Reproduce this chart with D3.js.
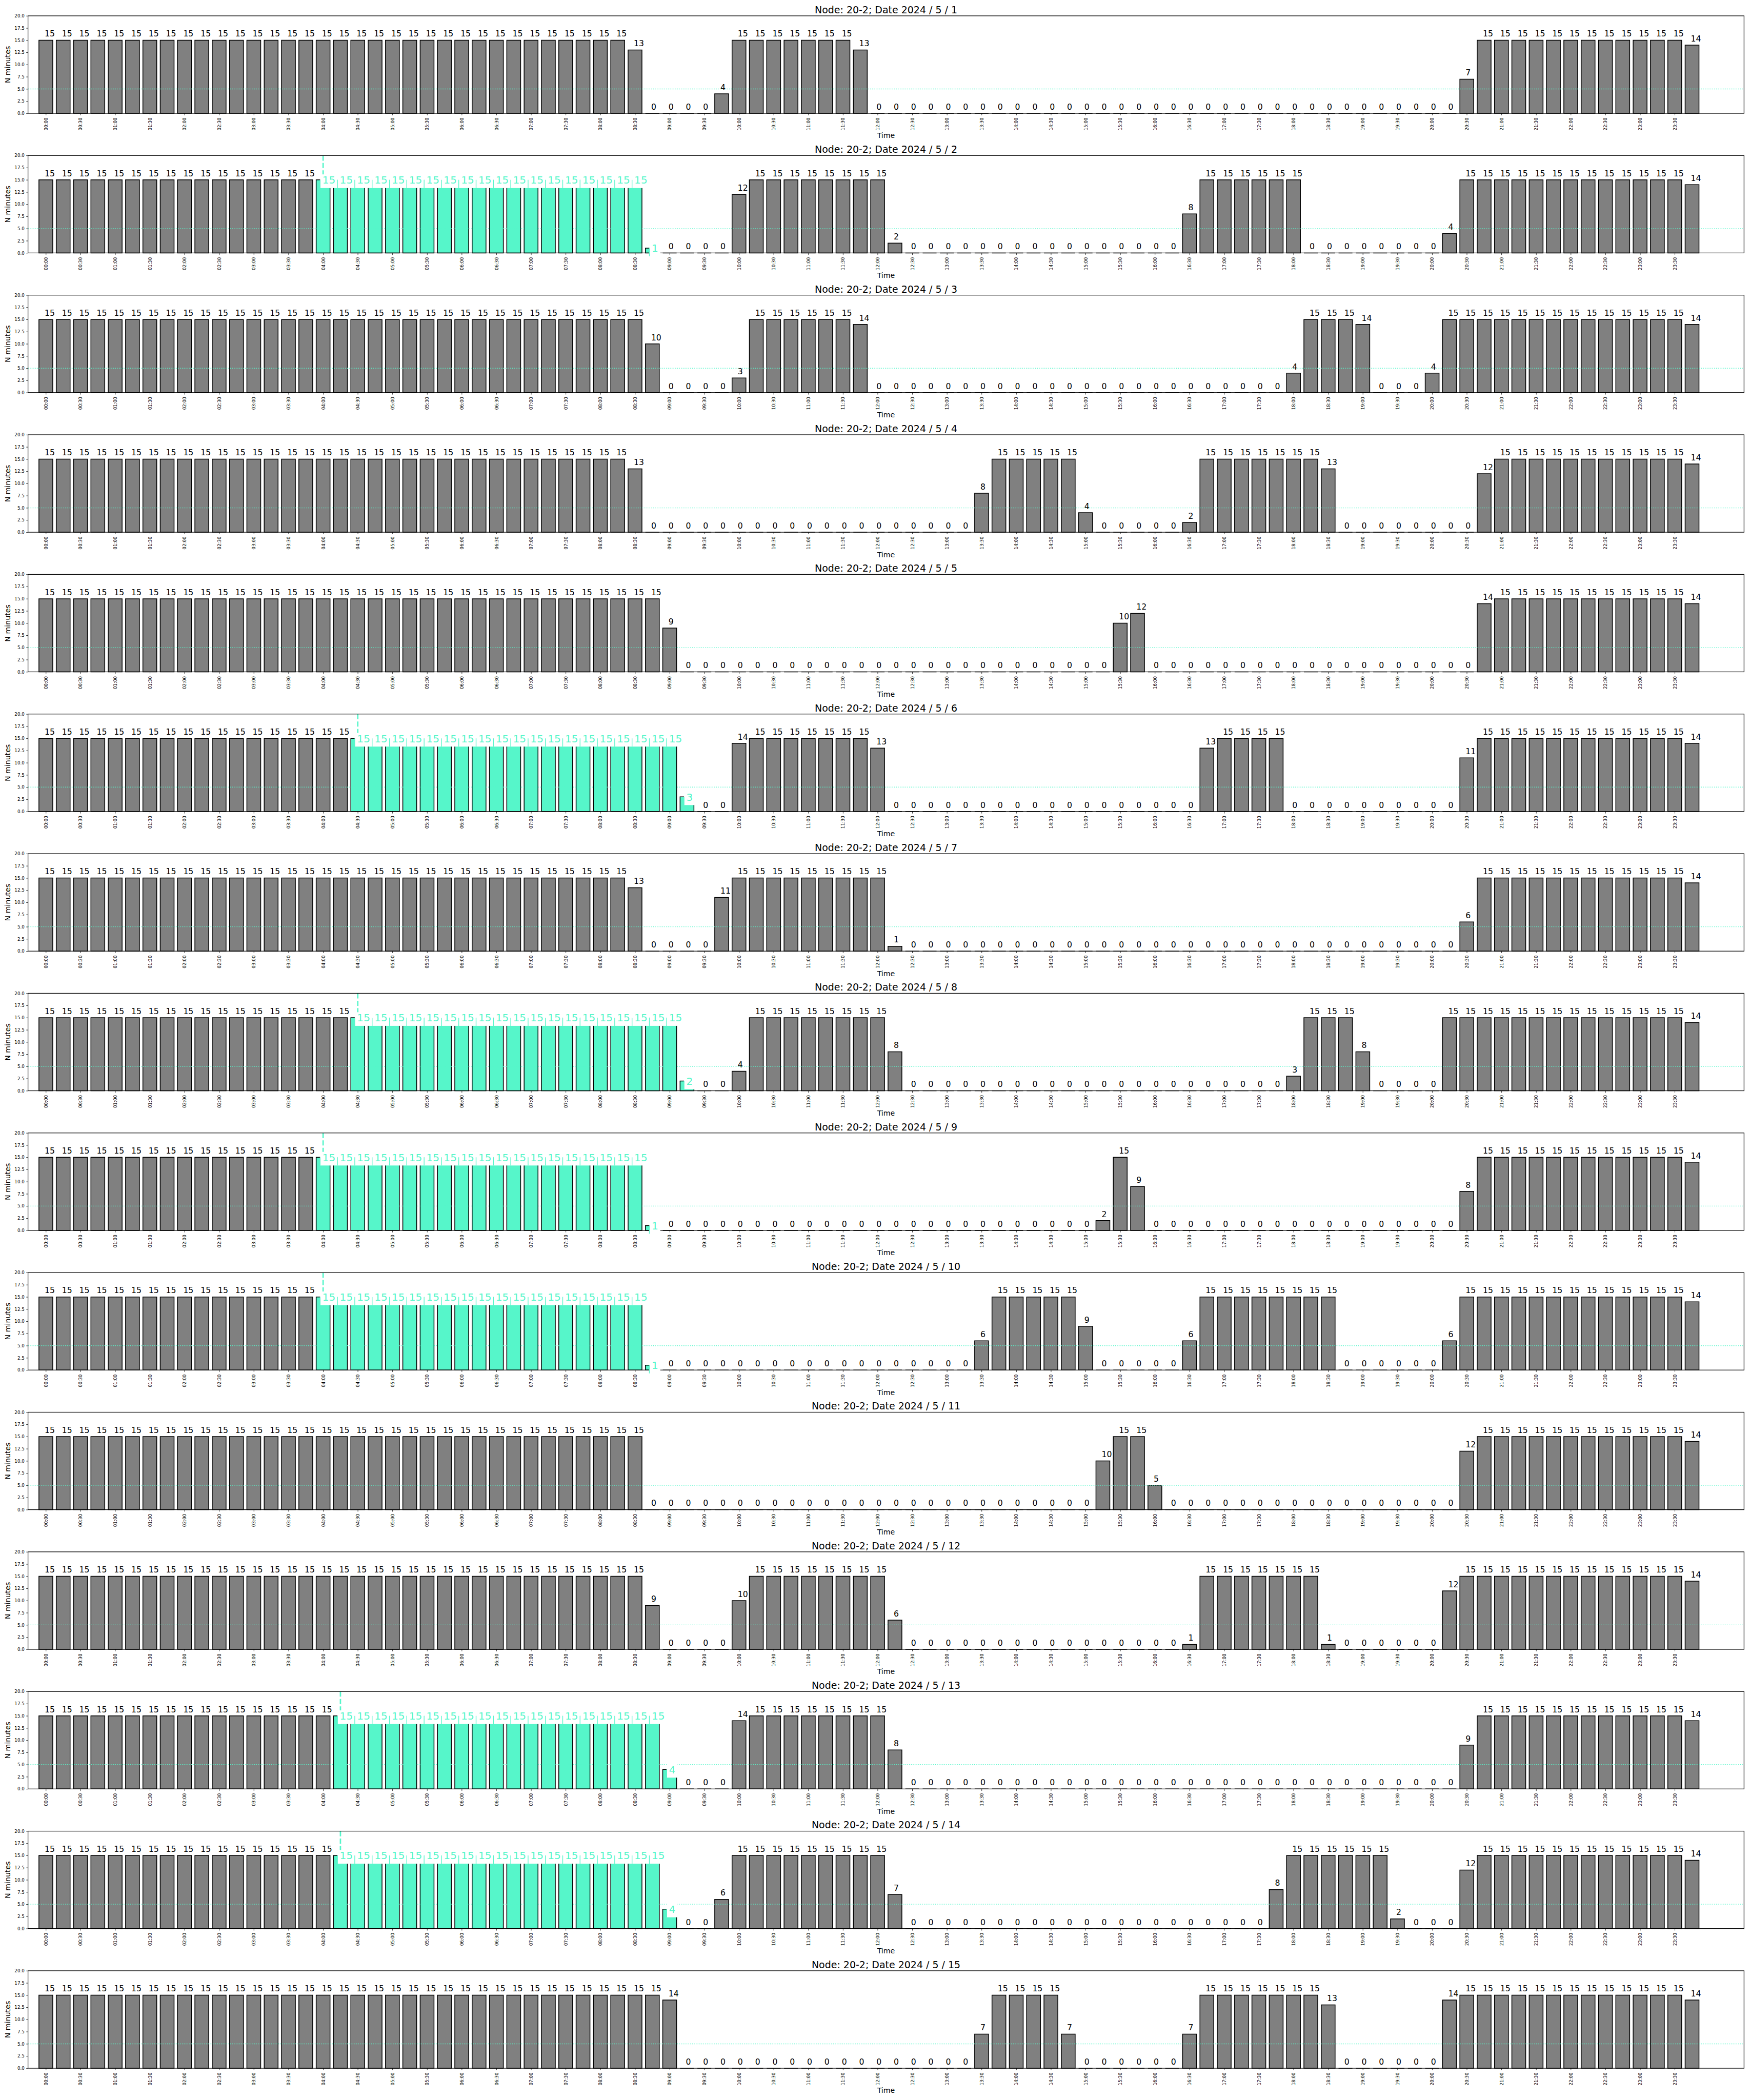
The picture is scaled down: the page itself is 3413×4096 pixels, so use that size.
<!DOCTYPE html>
<html><head><meta charset="utf-8">
<script src="https://cdn.jsdelivr.net/npm/d3@7"></script>
<style>body{margin:0;background:#fff}svg{display:block}</style>
</head><body>
<script>
const nodeName = "20-2";
const dates = ["2024 / 5 / 1","2024 / 5 / 2","2024 / 5 / 3","2024 / 5 / 4","2024 / 5 / 5",
  "2024 / 5 / 6","2024 / 5 / 7","2024 / 5 / 8","2024 / 5 / 9","2024 / 5 / 10",
  "2024 / 5 / 11","2024 / 5 / 12","2024 / 5 / 13","2024 / 5 / 14","2024 / 5 / 15"];
const timeLabels = ["00:00","00:30","01:00","01:30","02:00","02:30","03:00","03:30","04:00","04:30","05:00","05:30",
  "06:00","06:30","07:00","07:30","08:00","08:30","09:00","09:30","10:00","10:30","11:00","11:30",
  "12:00","12:30","13:00","13:30","14:00","14:30","15:00","15:30","16:00","16:30","17:00","17:30",
  "18:00","18:30","19:00","19:30","20:00","20:30","21:00","21:30","22:00","22:30","23:00","23:30"];
const yTicks = [0,2.5,5,7.5,10,12.5,15,17.5,20];
const threshold = 5;

const day1 = [15,15,15,15,15,15,15,15,15,15,15,15, 15,15,15,15,15,15,15,15,15,15,15,15,
  15,15,15,15,15,15,15,15,15,15,13,0, 0,0,0,4,15,15,15,15,15,15,15,13,
  0,0,0,0,0,0,0,0,0,0,0,0, 0,0,0,0,0,0,0,0,0,0,0,0,
  0,0,0,0,0,0,0,0,0,0,7,15, 15,15,15,15,15,15,15,15,15,15,15,14];
const day2 = [15,15,15,15,15,15,15,15,15,15,15,15, 15,15,15,15,15,15,15,15,15,15,15,15,
  15,15,15,15,15,15,15,15,15,15,15,1, 0,0,0,0,12,15,15,15,15,15,15,15,
  15,2,0,0,0,0,0,0,0,0,0,0, 0,0,0,0,0,0,8,15,15,15,15,15,
  15,0,0,0,0,0,0,0,0,4,15,15, 15,15,15,15,15,15,15,15,15,15,15,14];
const day3 = [15,15,15,15,15,15,15,15,15,15,15,15, 15,15,15,15,15,15,15,15,15,15,15,15,
  15,15,15,15,15,15,15,15,15,15,15,10, 0,0,0,0,3,15,15,15,15,15,15,14,
  0,0,0,0,0,0,0,0,0,0,0,0, 0,0,0,0,0,0,0,0,0,0,0,0,
  4,15,15,15,14,0,0,0,4,15,15,15, 15,15,15,15,15,15,15,15,15,15,15,14];
const day4 = [15,15,15,15,15,15,15,15,15,15,15,15, 15,15,15,15,15,15,15,15,15,15,15,15,
  15,15,15,15,15,15,15,15,15,15,13,0, 0,0,0,0,0,0,0,0,0,0,0,0,
  0,0,0,0,0,0,8,15,15,15,15,15, 4,0,0,0,0,0,2,15,15,15,15,15,
  15,15,13,0,0,0,0,0,0,0,0,12, 15,15,15,15,15,15,15,15,15,15,15,14];
const day5 = [15,15,15,15,15,15,15,15,15,15,15,15, 15,15,15,15,15,15,15,15,15,15,15,15,
  15,15,15,15,15,15,15,15,15,15,15,15, 9,0,0,0,0,0,0,0,0,0,0,0,
  0,0,0,0,0,0,0,0,0,0,0,0, 0,0,10,12,0,0,0,0,0,0,0,0,
  0,0,0,0,0,0,0,0,0,0,0,14, 15,15,15,15,15,15,15,15,15,15,15,14];
const day6 = [15,15,15,15,15,15,15,15,15,15,15,15, 15,15,15,15,15,15,15,15,15,15,15,15,
  15,15,15,15,15,15,15,15,15,15,15,15, 15,3,0,0,14,15,15,15,15,15,15,15,
  13,0,0,0,0,0,0,0,0,0,0,0, 0,0,0,0,0,0,0,13,15,15,15,15,
  0,0,0,0,0,0,0,0,0,0,11,15, 15,15,15,15,15,15,15,15,15,15,15,14];
const day7 = [15,15,15,15,15,15,15,15,15,15,15,15, 15,15,15,15,15,15,15,15,15,15,15,15,
  15,15,15,15,15,15,15,15,15,15,13,0, 0,0,0,11,15,15,15,15,15,15,15,15,
  15,1,0,0,0,0,0,0,0,0,0,0, 0,0,0,0,0,0,0,0,0,0,0,0,
  0,0,0,0,0,0,0,0,0,0,6,15, 15,15,15,15,15,15,15,15,15,15,15,14];
const day8 = [15,15,15,15,15,15,15,15,15,15,15,15, 15,15,15,15,15,15,15,15,15,15,15,15,
  15,15,15,15,15,15,15,15,15,15,15,15, 15,2,0,0,4,15,15,15,15,15,15,15,
  15,8,0,0,0,0,0,0,0,0,0,0, 0,0,0,0,0,0,0,0,0,0,0,0,
  3,15,15,15,8,0,0,0,0,15,15,15, 15,15,15,15,15,15,15,15,15,15,15,14];
const day9 = [15,15,15,15,15,15,15,15,15,15,15,15, 15,15,15,15,15,15,15,15,15,15,15,15,
  15,15,15,15,15,15,15,15,15,15,15,1, 0,0,0,0,0,0,0,0,0,0,0,0,
  0,0,0,0,0,0,0,0,0,0,0,0, 0,2,15,9,0,0,0,0,0,0,0,0,
  0,0,0,0,0,0,0,0,0,0,8,15, 15,15,15,15,15,15,15,15,15,15,15,14];
const day10 = [15,15,15,15,15,15,15,15,15,15,15,15, 15,15,15,15,15,15,15,15,15,15,15,15,
  15,15,15,15,15,15,15,15,15,15,15,1, 0,0,0,0,0,0,0,0,0,0,0,0,
  0,0,0,0,0,0,6,15,15,15,15,15, 9,0,0,0,0,0,6,15,15,15,15,15,
  15,15,15,0,0,0,0,0,0,6,15,15, 15,15,15,15,15,15,15,15,15,15,15,14];
const day11 = [15,15,15,15,15,15,15,15,15,15,15,15, 15,15,15,15,15,15,15,15,15,15,15,15,
  15,15,15,15,15,15,15,15,15,15,15,0, 0,0,0,0,0,0,0,0,0,0,0,0,
  0,0,0,0,0,0,0,0,0,0,0,0, 0,10,15,15,5,0,0,0,0,0,0,0,
  0,0,0,0,0,0,0,0,0,0,12,15, 15,15,15,15,15,15,15,15,15,15,15,14];
const day12 = [15,15,15,15,15,15,15,15,15,15,15,15, 15,15,15,15,15,15,15,15,15,15,15,15,
  15,15,15,15,15,15,15,15,15,15,15,9, 0,0,0,0,10,15,15,15,15,15,15,15,
  15,6,0,0,0,0,0,0,0,0,0,0, 0,0,0,0,0,0,1,15,15,15,15,15,
  15,15,1,0,0,0,0,0,0,12,15,15, 15,15,15,15,15,15,15,15,15,15,15,14];
const day13 = [15,15,15,15,15,15,15,15,15,15,15,15, 15,15,15,15,15,15,15,15,15,15,15,15,
  15,15,15,15,15,15,15,15,15,15,15,15, 4,0,0,0,14,15,15,15,15,15,15,15,
  15,8,0,0,0,0,0,0,0,0,0,0, 0,0,0,0,0,0,0,0,0,0,0,0,
  0,0,0,0,0,0,0,0,0,0,9,15, 15,15,15,15,15,15,15,15,15,15,15,14];
const day14 = [15,15,15,15,15,15,15,15,15,15,15,15, 15,15,15,15,15,15,15,15,15,15,15,15,
  15,15,15,15,15,15,15,15,15,15,15,15, 4,0,0,6,15,15,15,15,15,15,15,15,
  15,7,0,0,0,0,0,0,0,0,0,0, 0,0,0,0,0,0,0,0,0,0,0,8,
  15,15,15,15,15,15,2,0,0,0,12,15, 15,15,15,15,15,15,15,15,15,15,15,14];
const day15 = [15,15,15,15,15,15,15,15,15,15,15,15, 15,15,15,15,15,15,15,15,15,15,15,15,
  15,15,15,15,15,15,15,15,15,15,15,15, 14,0,0,0,0,0,0,0,0,0,0,0,
  0,0,0,0,0,0,7,15,15,15,15,7, 0,0,0,0,0,0,7,15,15,15,15,15,
  15,15,13,0,0,0,0,0,0,14,15,15, 15,15,15,15,15,15,15,15,15,15,15,14];

// highlighted runs (bar index of start and end), null = none
const highlightStart = [null,16,null,null,null,18,null,18,16,16,null,null,17,17,null];
const highlightEnd   = [null,35,null,null,null,37,null,37,35,35,null,null,36,36,null];

const series = [day1,day2,day3,day4,day5,day6,day7,day8,day9,day10,day11,day12,day13,day14,day15];

// ---------- drawing (coordinates in 5000x6000 reference space, scaled) ----------
const S = 3413/5000;
const AQ = "#56F6CA", GREY = "#808080";
const FONT = "DejaVu Sans";
const L = 80, R = 4983, TOP0 = 45.3, STEP = 399, AH = 278.5;

const svg = d3.select("body").append("svg").attr("width",3413).attr("height",4096);
svg.append("rect").attr("width",3413).attr("height",4096).attr("fill","#fff");
const root = svg.append("g").attr("transform",`scale(${S})`).attr("font-family",FONT);

const x = d3.scaleLinear().domain([-1.03, 98.0]).range([L, R]);
const bw = x(0.4) - x(-0.4);
const tickIdx = timeLabels.map((t,j)=>j*2);

series.forEach((vals,k)=>{
  const top = TOP0 + STEP*k, bot = top + AH;
  const y = d3.scaleLinear().domain([0,20]).range([bot, top]);
  const g = root.append("g");
  const hs = highlightStart[k], he = highlightEnd[k];
  const isHi = i => hs !== null && i >= hs && i <= he;

  if (hs !== null) {
    g.append("line").attr("x1",x(hs)).attr("x2",x(hs)).attr("y1",top).attr("y2",bot)
      .attr("stroke",AQ).attr("stroke-width",4).attr("stroke-dasharray","14.8 6.4");
  }

  g.append("g").selectAll("path").data(vals).join("path")
    .attr("d",(v,i)=>`M${x(i)-bw/2},${y(0)}V${y(v)}H${x(i)+bw/2}V${y(0)}Z`)
    .attr("fill",(v,i)=>isHi(i)?AQ:GREY)
    .attr("stroke","#000").attr("stroke-width",2.2).attr("stroke-linejoin","miter");

  g.append("line").attr("x1",L).attr("x2",R).attr("y1",y(threshold)).attr("y2",y(threshold))
    .attr("stroke",AQ).attr("stroke-width",2).attr("stroke-dasharray","2 3.3");

  // axes
  const ya = g.append("g").attr("transform",`translate(${L},0)`)
    .call(d3.axisLeft(y).tickValues(yTicks).tickFormat(d3.format(".1f")).tickSize(5).tickSizeOuter(0).tickPadding(5));
  ya.select(".domain").remove();
  ya.selectAll(".tick line").attr("stroke-width",1.2);
  ya.selectAll("text").attr("font-size",12.8).attr("font-family",FONT).attr("fill","#000");

  const xa = g.append("g").attr("transform",`translate(0,${bot})`)
    .call(d3.axisBottom(x).tickValues(tickIdx).tickFormat(i=>timeLabels[i/2]).tickSize(5.6).tickSizeOuter(0));
  xa.select(".domain").remove();
  xa.selectAll(".tick line").attr("stroke-width",1.2);
  xa.selectAll("text").attr("font-size",12.8).attr("font-family",FONT).attr("fill","#000")
    .attr("transform","rotate(-90)").attr("text-anchor","end")
    .attr("x",-12.3).attr("y",0).attr("dy","0.35em");

  g.append("rect").attr("x",L).attr("y",top).attr("width",R-L).attr("height",AH)
    .attr("fill","none").attr("stroke","#000").attr("stroke-width",1.8);

  // titles
  g.append("text").attr("x",(L+R)/2).attr("y",top-7.5).attr("text-anchor","middle")
    .attr("font-size",27.8).text(`Node: ${nodeName}; Date ${dates[k]}`);
  g.append("text").attr("x",(L+R)/2).attr("y",bot+71).attr("text-anchor","middle")
    .attr("font-size",20.8).text("Time");
  g.append("text").attr("transform",`translate(30,${(top+bot)/2}) rotate(-90)`)
    .attr("text-anchor","middle").attr("font-size",20.8).text("N minutes");

  // normal value labels
  vals.forEach((v,i)=>{
    if (isHi(i)) return;
    g.append("text").attr("x",x(i)-3.5).attr("y",y(v)-10.5).attr("font-size",23)
      .attr("fill","#000").text(v);
  });
  // highlighted value labels
  vals.forEach((v,i)=>{
    if (!isHi(i)) return;
    const lg = g.append("g");
    const rc = lg.append("rect");
    const ln = lg.append("line");
    const ax = x(i) - 2;
    const t = lg.append("text").attr("x",ax).attr("y",y(v)+10.8).attr("font-size",29.5)
      .attr("fill",AQ).text(v);
    const adv = t.node().getComputedTextLength();
    rc.attr("x",x(i)-8.5).attr("y",y(v)-15.6).attr("width",(ax+adv+6)-(x(i)-8.5)).attr("height",39)
      .attr("fill","#fff");
    ln.attr("x1",x(i)-8.5).attr("x2",x(i)-8.5).attr("y1",y(v)).attr("y2",y(v)+23.4)
      .attr("stroke",AQ).attr("stroke-width",2);
  });
});
</script>
</body></html>
